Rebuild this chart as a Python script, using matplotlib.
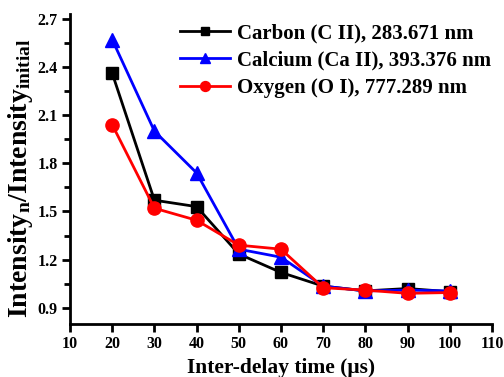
import matplotlib
matplotlib.use('Agg')
import matplotlib.pyplot as plt
from matplotlib.ticker import MultipleLocator

plt.rcParams['font.family'] = 'Liberation Serif'
plt.rcParams['font.weight'] = 'bold'
plt.rcParams['mathtext.fontset'] = 'custom'
plt.rcParams['mathtext.rm'] = 'Liberation Serif:bold'
plt.rcParams['mathtext.it'] = 'Liberation Serif:bold'
plt.rcParams['mathtext.bf'] = 'Liberation Serif:bold'

delay = [20, 30, 40, 50, 60, 70, 80, 90, 100]
carbon = [2.36, 1.57, 1.53, 1.235, 1.12, 1.035, 1.005, 1.02, 1.0]
calcium = [2.57, 2.0, 1.74, 1.265, 1.215, 1.035, 1.005, 1.01, 1.005]
oxygen = [2.04, 1.52, 1.445, 1.29, 1.265, 1.025, 1.01, 0.99, 0.995]

labels = ['Carbon (C II), 283.671 nm',
          'Calcium (Ca II), 393.376 nm',
          'Oxygen (O I), 777.289 nm']

fig = plt.figure(figsize=(5.04, 3.77), dpi=100)
ax = fig.add_axes([0.139, 0.141, 0.837, 0.822])

ax.plot(delay, carbon, color='black', marker='s', markersize=8, lw=2, label=labels[0])
ax.plot(delay, calcium, color='blue', marker='^', markersize=9.5, lw=2, label=labels[1])
ax.plot(delay, oxygen, color='red', marker='o', markersize=9.5, lw=2, label=labels[2])

ax.set_xlim(10, 110)
ax.set_ylim(0.8, 2.73)
ax.xaxis.set_major_locator(MultipleLocator(10))
ax.yaxis.set_minor_locator(MultipleLocator(0.15))
ax.set_yticks([0.9, 1.2, 1.5, 1.8, 2.1, 2.4, 2.7])

for side in ['top', 'right']:
    ax.spines[side].set_visible(False)
for side in ['left', 'bottom']:
    ax.spines[side].set_linewidth(2)

ax.tick_params(which='major', direction='out', width=2, length=6, labelsize=11.5, pad=3)
ax.tick_params(which='minor', direction='out', width=2, length=4)

ax.set_xlabel('Inter-delay time (μs)', fontsize=15.5, fontweight='bold', labelpad=4)
ax.set_ylabel('Intensity$_{\\mathregular{n}}$/Intensity$_{\\mathregular{initial}}$',
              fontsize=20, fontweight='bold')
ax.yaxis.set_label_coords(-0.083, 0.47)

ax.legend(loc='upper right', bbox_to_anchor=(1.017, 0.997), frameon=False,
          handlelength=2.4, markerscale=0.75, handletextpad=0.3,
          labelspacing=0.35, borderaxespad=0.0,
          prop={'weight': 'bold', 'size': 15})

fig.savefig('out.png', dpi=100)
